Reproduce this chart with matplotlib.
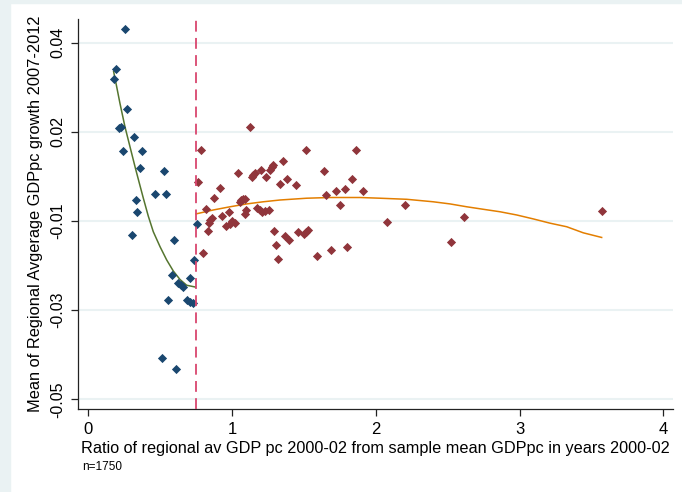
import numpy as np
import matplotlib
matplotlib.use('Agg')
import matplotlib.pyplot as plt
from matplotlib.patches import Rectangle

plt.rcParams['font.family'] = ['Liberation Sans', 'DejaVu Sans']

# regions below the 0.75 cutoff
low_x = [0.252, 0.193, 0.175, 0.268, 0.210, 0.224, 0.317, 0.238, 0.370, 0.356,
         0.523, 0.465, 0.541, 0.333, 0.340, 0.752, 0.301, 0.595, 0.736, 0.580,
         0.704, 0.626, 0.642, 0.659, 0.550, 0.685, 0.705, 0.724, 0.509, 0.611]
low_y = [0.0488, 0.0376, 0.0347, 0.0263, 0.0210, 0.0214, 0.0185, 0.0146, 0.0146, 0.0099,
         0.0090, 0.0025, 0.0027, 0.0008, -0.0026, -0.0058, -0.0089, -0.0104, -0.0158, -0.0202,
         -0.0211, -0.0224, -0.0229, -0.0234, -0.0271, -0.0270, -0.0276, -0.0281, -0.0434, -0.0466]

# regions above the cutoff
high_x = [1.126, 0.783, 1.514, 1.864, 1.351, 1.286, 1.277, 1.265, 1.203, 1.637,
          1.040, 1.157, 1.147, 1.138, 1.235, 1.381, 1.832, 0.764, 1.335, 1.444,
          0.913, 1.787, 1.724, 1.910, 1.655, 0.875, 1.089, 1.073, 1.061, 1.052,
          1.752, 2.205, 0.816, 1.098, 1.091, 1.175, 1.191, 1.209, 1.226, 1.254,
          0.978, 0.931, 0.859, 0.848, 0.839, 1.001, 1.022, 0.983, 0.959, 2.075,
          0.830, 1.294, 1.459, 1.530, 1.517, 1.503, 1.365, 1.395, 1.303, 1.801,
          1.686, 0.799, 1.592, 1.321, 2.613, 2.526, 3.570]
high_y = [0.0213, 0.0150, 0.0150, 0.0150, 0.0119, 0.0108, 0.0102, 0.0094, 0.0093, 0.0090,
          0.0084, 0.0085, 0.0079, 0.0073, 0.0073, 0.0069, 0.0069, 0.0059, 0.0053, 0.0050,
          0.0043, 0.0040, 0.0034, 0.0034, 0.0022, 0.0014, 0.0012, 0.0012, 0.0009, 0.0003,
          -0.0004, -0.0004, -0.0016, -0.0019, -0.0030, -0.0013, -0.0019, -0.0024, -0.0021, -0.0019,
          -0.0025, -0.0036, -0.0041, -0.0047, -0.0056, -0.0051, -0.0056, -0.0058, -0.0065, -0.0054,
          -0.0078, -0.0078, -0.0082, -0.0075, -0.0081, -0.0087, -0.0091, -0.0104, -0.0117, -0.0124,
          -0.0132, -0.0139, -0.0148, -0.0157, -0.0039, -0.0110, -0.0023]

# quadratic fit lines (fitted on the underlying observations)
qfit_low_x = [0.175, 0.196, 0.219, 0.254, 0.289, 0.324, 0.354, 0.381, 0.416, 0.451,
              0.498, 0.544, 0.590, 0.637, 0.683, 0.743]
qfit_low_y = [0.0369, 0.0327, 0.0280, 0.0214, 0.0158, 0.0102, 0.0056, 0.0015, -0.0036, -0.0080,
              -0.0122, -0.0159, -0.0190, -0.0214, -0.0230, -0.0235]
qfit_high_x = [0.748, 0.868, 0.985, 1.101, 1.216, 1.333, 1.518, 1.681, 1.889, 2.029, 2.214,
               2.399, 2.516, 2.632, 2.747, 2.864, 2.980, 3.095, 3.212, 3.328, 3.443, 3.571]
qfit_high_y = [-0.0030, -0.0019, -0.0010, -0.0002, 0.0004, 0.0009, 0.0014, 0.0016, 0.0016, 0.0014,
               0.0011, 0.0004, -0.0002, -0.0010, -0.0017, -0.0024, -0.0033, -0.0044, -0.0056,
               -0.0066, -0.0083, -0.0096]

cutoff = 0.75
yticks = [0.045, 0.02, -0.005, -0.03, -0.055]
ytick_labels = ['0.04', '0.02', '-0.01', '-0.03', '-0.05']
xticks = [0, 1, 2, 3, 4]

navy = '#1a476f'
maroon = '#90353b'
green = '#55752f'
orange = '#e37e00'
grid_c = '#eaf2f3'

fig = plt.figure(figsize=(6.82, 4.92), dpi=100)
fig.patches.append(Rectangle((0, 0), 10 / 682, 1, transform=fig.transFigure,
                             color=grid_c, zorder=0))
fig.patches.append(Rectangle((0, 1 - 3 / 492), 1, 3 / 492, transform=fig.transFigure,
                             color=grid_c, zorder=0))
ax = fig.add_axes([78 / 682, 1 - 409 / 492, (673 - 78) / 682, (409 - 19) / 492])

for yt in yticks:
    ax.axhline(yt, color=grid_c, lw=1.5, zorder=0)

ax.scatter(low_x, low_y, marker='D', s=22, color=navy, lw=0, zorder=3)
ax.scatter(high_x, high_y, marker='D', s=22, color=maroon, lw=0, zorder=3)

ax.plot(qfit_low_x, qfit_low_y, color=green, lw=1.1, zorder=2)
ax.plot(qfit_high_x, qfit_high_y, color=orange, lw=1.1, zorder=2)

ax.axvline(cutoff, color='#d9466e', lw=1.3, dashes=(6, 3.5), zorder=4)

ax.set_xlim(-0.073, 4.0675)
ax.set_ylim(-0.0577, 0.05165)
ax.set_xticks(xticks)
ax.set_yticks(yticks)
ax.set_yticklabels(ytick_labels, rotation=90, va='center')
ax.tick_params(axis='both', length=5, width=0.9, color='#222222')
ax.tick_params(axis='y', labelsize=11.5, pad=4)
ax.tick_params(axis='x', labelsize=12, pad=4)

for side in ['top', 'right']:
    ax.spines[side].set_visible(False)
for side in ['left', 'bottom']:
    ax.spines[side].set_linewidth(0.9)
    ax.spines[side].set_color('#222222')

ax.set_ylabel('Mean of Regional Avgerage GDPpc growth 2007-2012', fontsize=11.8)
ax.yaxis.set_label_coords(-0.058, 0.5)
ax.set_xlabel('Ratio of regional av GDP pc 2000-02 from sample mean GDPpc in years 2000-02',
              fontsize=11.7)
ax.xaxis.set_label_coords(0.005, -0.083)
ax.xaxis.label.set_horizontalalignment('left')
fig.text(82 / 682, 1 - 467 / 492, 'n=1750', fontsize=8.5, va='center', ha='left')

fig.savefig('out.png', dpi=100)
